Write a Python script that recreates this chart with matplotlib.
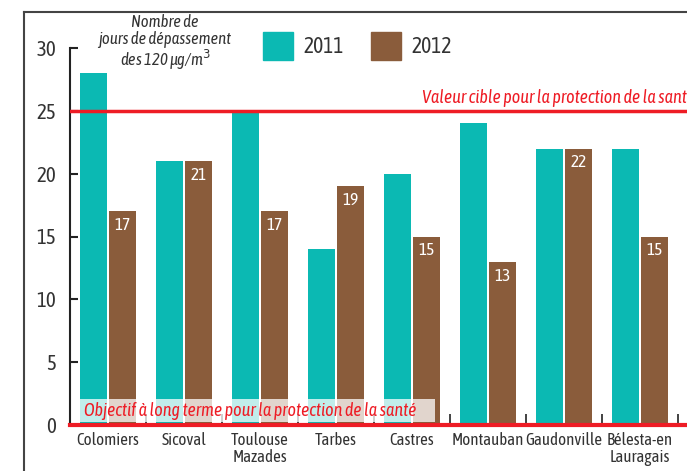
import matplotlib.pyplot as plt
import numpy as np
from matplotlib.patches import Rectangle
from matplotlib.lines import Line2D

plt.rcParams['font.family'] = ['Asap Condensed', 'DejaVu Sans']

# data
stations = ["Colomiers", "Sicoval", "Toulouse\nMazades", "Tarbes", "Castres",
            "Montauban", "Gaudonville", "Bélesta-en\nLauragais"]
days_2011 = [28, 21, 25, 14, 20, 24, 22, 22]
days_2012 = [17, 21, 17, 19, 15, 13, 22, 15]
target_value = 25
long_term_goal = 0

teal = "#0bb9b3"
brown = "#8a5c3b"
red = "#ee1c25"
txt = "#333333"

fig = plt.figure(figsize=(6.87, 4.71), dpi=100)
ax = fig.add_axes([70 / 687, 46 / 471, 1 - 70 / 687, (425 - 48) / 471])

x = np.arange(len(stations))
w = 0.365
ax.bar(x - 0.19, days_2011, w, color=teal, zorder=2)
ax.bar(x + 0.19, days_2012, w, color=brown, zorder=2)

for xi, v in zip(x, days_2012):
    ax.text(xi + 0.19, v - 1.15, str(v), color="white", ha="center", va="center",
            fontsize=12.5, zorder=3)

ax.axhline(target_value, color=red, lw=2.5, zorder=4)
ax.axhline(long_term_goal, color=red, lw=3, zorder=6, clip_on=False)

# clipped at the right edge, as in the original
ax.text(4.13, target_value + 1.0, "Valeur cible pour la protection de la santé",
        color=red, style="italic", fontsize=13, ha="left", va="center",
        clip_on=True)

# white translucent box behind the long term goal label
ax.add_patch(Rectangle((-0.37, 0.25), 4.67, 1.8, facecolor="white", alpha=0.75,
                       edgecolor="none", zorder=4))
ax.text(-0.31, 1.1, "Objectif à long terme pour la protection de la santé",
        color=red, style="italic", fontsize=13, ha="left", va="center", zorder=5)

ax.set_xlim(-0.5, 7.5 + 9 / 76)
ax.set_ylim(0, 30)
ax.set_yticks([0, 5, 10, 15, 20, 25, 30])
ax.tick_params(axis="y", direction="in", length=6, width=1.5, labelsize=15,
               colors="#222222", labelcolor=txt, pad=10)
ax.set_xticks(x + 0.5, minor=True)
ax.set_xticks(x)
ax.set_xticklabels(stations, fontsize=12.2, color=txt, linespacing=1.0)
ax.tick_params(axis="x", which="major", length=0, pad=5)
ax.tick_params(axis="x", which="minor", direction="in", length=8, width=1.2, colors="#222222")

for s in ["top", "right", "bottom"]:
    ax.spines[s].set_visible(False)
ax.spines["left"].set_linewidth(1.5)
ax.spines["left"].set_color("#222222")

# y axis title
fig.text(165 / 687, 1 - 43 / 471, "Nombre de\njours de dépassement\ndes 120 µg/m$^3$",
         ha="center", va="center", style="italic", fontsize=12, color=txt,
         linespacing=1.0)

# legend
for x0, col, lab in [(263, teal, "2011"), (371, brown, "2012")]:
    fig.patches.append(Rectangle((x0 / 687, 1 - 60 / 471), 30 / 687, 28 / 471,
                                 transform=fig.transFigure, color=col))
    fig.text((x0 + 40) / 687, 1 - 47 / 471, lab, fontsize=15.5, color=txt,
             va="center", ha="left")

# outer frame
fig.lines.append(Line2D([24 / 687, 24 / 687], [0, 1 - 12 / 471],
                        transform=fig.transFigure, color="#444444", lw=1.5))
fig.lines.append(Line2D([24 / 687, 1], [1 - 12 / 471, 1 - 12 / 471],
                        transform=fig.transFigure, color="#444444", lw=1.5))

fig.savefig("out.png", dpi=100)
